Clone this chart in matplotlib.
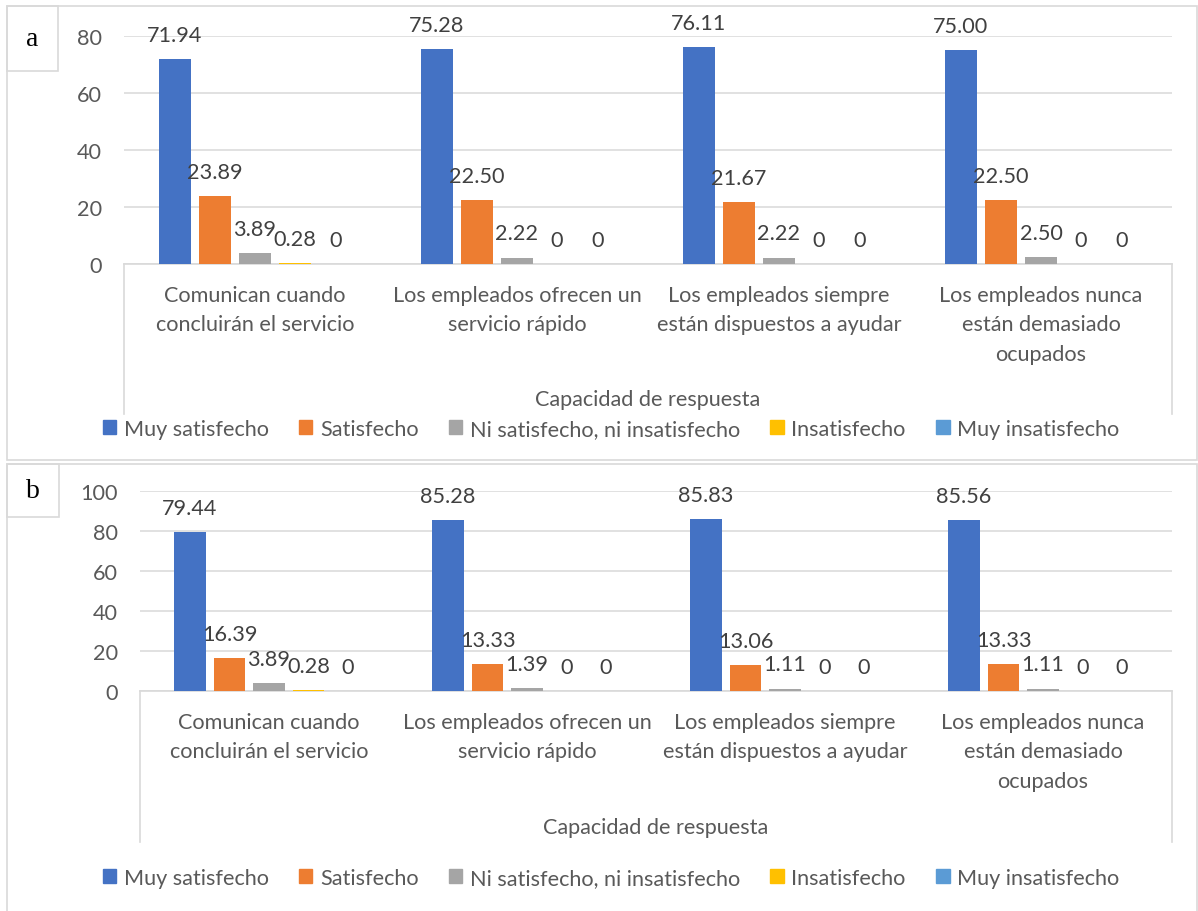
import matplotlib.pyplot as plt
from matplotlib.patches import Patch, Rectangle
from matplotlib.lines import Line2D
from matplotlib.transforms import Affine2D

plt.rcParams['font.family'] = ['Lato', 'DejaVu Sans']

categorias = ["Comunican cuando\nconcluirán el servicio",
              "Los empleados ofrecen un\nservicio rápido",
              "Los empleados siempre\nestán dispuestos a ayudar",
              "Los empleados nunca\nestán demasiado\nocupados"]
niveles = ["Muy satisfecho", "Satisfecho", "Ni satisfecho, ni insatisfecho",
           "Insatisfecho", "Muy insatisfecho"]
colores = ["#4472C4", "#ED7D31", "#A5A5A5", "#FFC000", "#5B9BD5"]
titulo_eje = "Capacidad de respuesta"

# panel a
a_muy_sat = [71.94, 75.28, 76.11, 75.00]
a_sat = [23.89, 22.50, 21.67, 22.50]
a_ni = [3.89, 2.22, 2.22, 2.50]
a_insat = [0.28, 0, 0, 0]
a_muy_insat = [0, 0, 0, 0]

# panel b
b_muy_sat = [79.44, 85.28, 85.83, 85.56]
b_sat = [16.39, 13.33, 13.06, 13.33]
b_ni = [3.89, 1.39, 1.11, 1.11]
b_insat = [0.28, 0, 0, 0]
b_muy_insat = [0, 0, 0, 0]

W, H = 1198, 912
fig = plt.figure(figsize=(W / 100, H / 100), dpi=100)
# coordenadas en pixeles desde la esquina superior izquierda
px = Affine2D().scale(1 / W, -1 / H).translate(0, 1) + fig.transFigure

GRIS = "#d9d9d9"
TEXTO = "#595959"
FS = 15.6


def panel(series, ymax, letra, caja, ejes, y_caja, y_titulo, y_leyenda, caja_letra):
    # marco del panel y recuadro de la letra
    x0, y0, x1, y1 = caja
    fig.add_artist(Rectangle((x0, y1), x1 - x0, y0 - y1, transform=px,
                             fill=False, ec=GRIS, lw=1.2))
    lx0, ly0, lx1, ly1 = caja_letra
    fig.add_artist(Rectangle((lx0, ly1), lx1 - lx0, ly0 - ly1, transform=px,
                             fill=False, ec=GRIS, lw=1.2))
    fig.text((lx0 + lx1) / 2, (ly0 + ly1) / 2, letra, transform=px,
             family='Liberation Serif', fontsize=20, ha='center', va='center')

    l, t, r, b = ejes
    ax = fig.add_axes([l / W, 1 - b / H, (r - l) / W, (b - t) / H])
    paso, ancho = 0.153, 0.122
    for i, (vals, col) in enumerate(zip(series, colores)):
        xs = [k + (i - 2) * paso for k in range(len(vals))]
        ax.bar(xs, vals, width=ancho, color=col, zorder=3)
        for x, v in zip(xs, vals):
            txt = "0" if v == 0 else f"{v:.2f}"
            ax.annotate(txt, (x, v), xytext=(0, 17.5), textcoords='offset points',
                        ha='center', va='center', fontsize=FS, color="#404040")
    ax.set_xlim(-0.5, 3.5)
    ax.set_ylim(0, ymax)
    ax.set_yticks(range(0, ymax + 1, 20))
    ax.yaxis.grid(True, color=GRIS, lw=1.1, zorder=0)
    ax.set_xticks(range(4), categorias, linespacing=1.6)
    ax.tick_params(axis='both', length=0, labelsize=FS, labelcolor=TEXTO)
    ax.tick_params(axis='x', pad=15)
    ax.tick_params(axis='y', pad=16)
    for s in ['top', 'right', 'left']:
        ax.spines[s].set_visible(False)
    ax.spines['bottom'].set_color(GRIS)
    ax.spines['bottom'].set_linewidth(1.2)

    # lineas del eje de categorias de dos niveles
    for xx in (l, r):
        fig.add_artist(Line2D([xx, xx], [b, y_caja], transform=px, color=GRIS, lw=1.2))
    fig.text((l + r) / 2, y_titulo, titulo_eje, transform=px, ha='center', va='center',
             fontsize=FS, color=TEXTO)

    handles = [Patch(color=c) for c in colores]
    fig.legend(handles, niveles, loc='center', bbox_to_anchor=(611, y_leyenda),
               bbox_transform=px, ncol=5, frameon=False, fontsize=FS,
               handlelength=0.62, handleheight=0.62, handletextpad=0.35,
               columnspacing=1.4, labelcolor=TEXTO)


panel([a_muy_sat, a_sat, a_ni, a_insat, a_muy_insat], 80, "a",
      (7, 7, 1197, 461), (124, 37, 1172, 265), 415, 400, 430, (7, 7, 58, 72))
panel([b_muy_sat, b_sat, b_ni, b_insat, b_muy_insat], 100, "b",
      (7, 465, 1197, 925), (140, 492, 1172, 692), 843, 828, 879, (7, 465, 59, 518))

fig.savefig("out.png", dpi=100, facecolor="white")
